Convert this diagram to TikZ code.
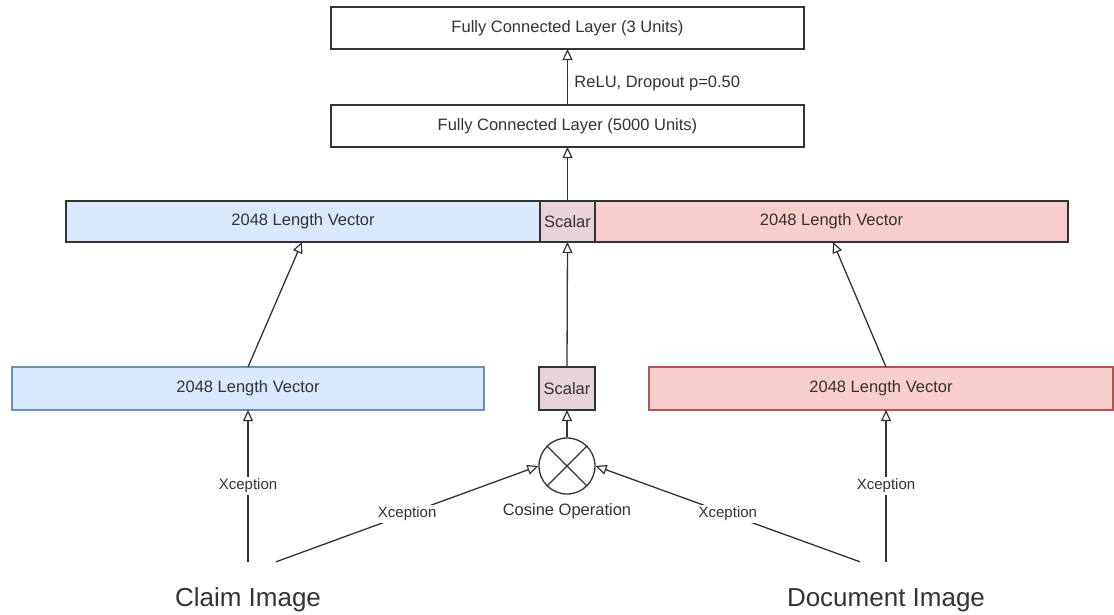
\documentclass[tikz,border=0pt]{standalone}
\usepackage{fontspec}
\setmainfont{Liberation Sans}
\usetikzlibrary{arrows.meta,calc,shapes.geometric}
\definecolor{ink}{HTML}{333333}
\definecolor{blueF}{HTML}{DAE8FC}
\definecolor{blueD}{HTML}{6C8EBF}
\definecolor{pinkF}{HTML}{F8CECC}
\definecolor{pinkD}{HTML}{B85450}
\definecolor{scalF}{HTML}{E8D2DC}
\tikzset{
  box/.style={draw=ink, line width=1.3pt, inner sep=0pt, outer sep=0pt, text=ink,
              font=\fontsize{16.5}{18}\selectfont},
  arr/.style={draw=ink, line width=1.3pt, -{Triangle[width=10pt,length=11pt,fill=white,line width=1.2pt]}},
  lbl/.style={fill=white, inner sep=2pt, text=ink, font=\fontsize{15}{17}\selectfont},
  big/.style={inner sep=0pt, text=ink, font=\fontsize{26}{30}\selectfont, minimum height=76pt}
}
\begin{document}
\begin{tikzpicture}[x=1pt,y=-1pt]
\useasboundingbox (0,0) rectangle (1114,614);
% top layers
\node[box, minimum width=473pt, minimum height=42pt] (fc3) at (567.5,28) {Fully Connected Layer (3 Units)};
\node[box, minimum width=473pt, minimum height=42pt] (fc5) at (567.5,126) {Fully Connected Layer (5000 Units)};
% middle row
\node[box, fill=blueF, minimum width=474pt, minimum height=41pt] (midL) at (303,221.5) {2048 Length Vector};
\node[box, fill=scalF, minimum width=55pt, minimum height=41pt] (scalM) at (567.5,221.5) {Scalar};
\node[box, fill=pinkF, minimum width=473pt, minimum height=41pt] (midR) at (831.5,221.5) {2048 Length Vector};
% bottom row
\node[box, draw=blueD, fill=blueF, minimum width=472pt, minimum height=43pt] (botL) at (248,388.5) {2048 Length Vector};
\node[box, fill=scalF, minimum width=56pt, minimum height=43pt] (scalB) at (567,388.5) {Scalar};
\node[box, draw=pinkD, fill=pinkF, minimum width=464pt, minimum height=43pt] (botR) at (881,388.5) {2048 Length Vector};
% cosine
\node[draw=ink, line width=1.3pt, circle, minimum size=56pt, inner sep=0pt] (cos) at (567,466) {};
\draw[ink, line width=1.3pt] (cos.north west) -- (cos.south east) (cos.north east) -- (cos.south west);
\node[text=ink, font=\fontsize{16.5}{18}\selectfont] (coslbl) at (567,511.5) {Cosine Operation};
% inputs
\node[big] (claim) at (248,600) {Claim Image};
\node[big] (doc) at (886,600) {Document Image};
\coordinate (claimR) at ($(claim.north)+(28,0)$);
\coordinate (docL) at ($(doc.north)+(-26,0)$);
\coordinate (botRin) at ($(botR.south)+(5,0)$);
\coordinate (botRout) at ($(botR.north)+(5,0)$);
\coordinate (midLin) at ($(midL.south)+(-1,0)$);
\coordinate (midRin) at ($(midR.south)+(1.5,0)$);
% connectors
\draw[arr] (fc5.north) -- node[pos=0.39, anchor=west, xshift=3pt, text=ink, font=\fontsize{16.5}{18}\selectfont] (relu) {ReLU, Dropout p=0.50} (fc3.south);
\draw[arr] (scalM.north) -- (fc5.south);
\draw[arr] (botL.north) -- (midLin);
\draw[arr] (botRout) -- (midRin);
\draw[arr] (scalB.north) -- (scalM.south);
\draw[arr] (cos.north) -- (scalB.south);
\draw[arr] (claim.north) -- node[lbl] (x1) {Xception} (botL.south);
\draw[arr] (doc.north) -- node[lbl] (x2) {Xception} (botRin);
\draw[arr] (claimR) -- node[lbl] (x3) {Xception} (cos.west);
\draw[arr] (docL) -- node[lbl] (x4) {Xception} (cos.east);
\end{tikzpicture}
\end{document}
